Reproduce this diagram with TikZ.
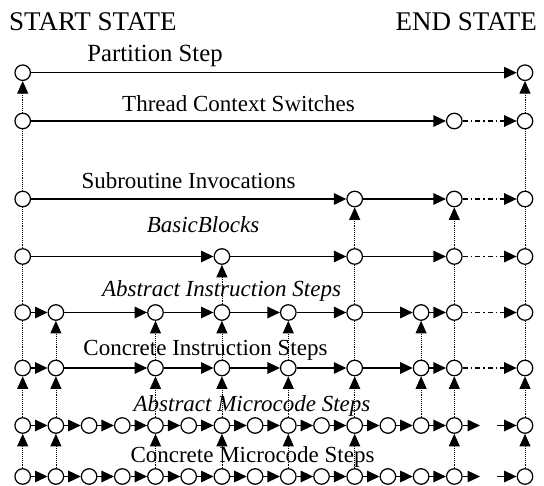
\documentclass[tikz,border=0pt]{standalone}
\usepackage{fontspec}
\setmainfont{Liberation Serif}
\usetikzlibrary{arrows.meta}
\begin{document}
\begin{tikzpicture}[x=1pt,y=-1pt,
  st/.style={circle,draw,line width=1.25pt,fill=white,minimum size=15.5pt,inner sep=0pt},
  harr/.style={line width=1.4pt,-{Triangle[length=12.5pt,width=11.5pt]}},
  dd/.style={harr,dash pattern=on 5pt off 3pt on 1.5pt off 3pt},
  varr/.style={line width=0.8pt,dash pattern=on 0.8pt off 1.1pt,-{Triangle[length=12.5pt,width=11pt]}},
  vln/.style={line width=0.8pt,dash pattern=on 0.8pt off 1.1pt},
  lbl/.style={font=\fontsize{23}{23}\selectfont,anchor=base,inner sep=0pt},
  ttl/.style={font=\fontsize{27}{27}\selectfont,inner sep=0pt}]
\useasboundingbox (0,0) rectangle (544,486);

% titles and labels
\node[ttl,anchor=base west] (tstart) at (9,31) {START STATE};
\node[ttl,anchor=base east] (tend) at (537,31) {END STATE};
\node[lbl,font=\fontsize{24.7}{24.7}\selectfont] (l1) at (155,62) {Partition Step};
\node[lbl] (l2) at (238.5,112) {Thread Context Switches};
\node[lbl] (l3) at (188.5,189) {Subroutine Invocations};
\node[lbl] (l4) at (203,233) {\itshape BasicBlocks};
\node[lbl] (l5) at (221.5,297) {\itshape Abstract Instruction Steps};
\node[lbl] (l6) at (205.5,356) {Concrete Instruction Steps};
\node[lbl] (l7) at (252,412) {\itshape Abstract Microcode Steps};
\node[lbl] (l8) at (252.5,462) {Concrete Microcode Steps};

% nodes
\foreach \r/\y/\cols in {1/72.7/{0}, 2/121/{0,13}, 3/199/{0,10,13}, 4/256.5/{0,6,10,13},
    5/312.5/{0,1,4,6,8,10,12,13}, 6/368/{0,1,4,6,8,10,12,13},
    7/425.5/{0,1,2,3,4,5,6,7,8,9,10,11,12,13}, 8/476.5/{0,1,2,3,4,5,6,7,8,9,10,11,12,13}} {
  \foreach \c in \cols { \node[st] (r\r c\c) at ({22.7+33.2*\c},\y) {}; }
  \node[st] (r\r cE) at (525,\y) {};
}
\coordinate (r7t) at (480,425.5);
\coordinate (r7s) at (497,425.5);
\coordinate (r8t) at (480,476.5);
\coordinate (r8s) at (497,476.5);

% horizontal connectors
\draw[harr] (r1c0) -- (r1cE);
\draw[harr] (r2c0) -- (r2c13);
\draw[dd] (r2c13) -- (r2cE);
\foreach \a/\b in {0/10,10/13} \draw[harr] (r3c\a) -- (r3c\b);
\draw[dd] (r3c13) -- (r3cE);
\foreach \a/\b in {0/6,6/10,10/13} \draw[harr] (r4c\a) -- (r4c\b);
\draw[dd] (r4c13) -- (r4cE);
\foreach \r in {5,6} {
  \foreach \a/\b in {0/1,1/4,4/6,6/8,8/10,10/12,12/13} \draw[harr] (r\r c\a) -- (r\r c\b);
  \draw[dd] (r\r c13) -- (r\r cE);
}
\foreach \r in {7,8} {
  \foreach \a/\b in {0/1,1/2,2/3,3/4,4/5,5/6,6/7,7/8,8/9,9/10,10/11,11/12,12/13} \draw[harr] (r\r c\a) -- (r\r c\b);
  \draw[harr] (r\r c13) -- (r\r t);
  \draw[harr] (r\r s) -- (r\r cE);
}

% vertical connectors
\foreach \c in {0,E} {
  \draw[varr] (r2c\c) -- (r1c\c);
  \foreach \a/\b in {3/2,4/3,5/4,6/5} \draw[vln] (r\a c\c) -- (r\b c\c);
  \draw[varr] (r7c\c) -- (r6c\c);
  \draw[varr] (r8c\c) -- (r7c\c);
}
\foreach \c in {10,13} {
  \draw[varr] (r4c\c) -- (r3c\c);
  \draw[vln] (r5c\c) -- (r4c\c);
  \draw[vln] (r6c\c) -- (r5c\c);
  \draw[varr] (r7c\c) -- (r6c\c);
  \draw[varr] (r8c\c) -- (r7c\c);
}
\draw[varr] (r6c12) -- (r5c12);
\draw[varr] (r7c12) -- (r6c12);
\draw[varr] (r5c6) -- (r4c6);
\foreach \c in {1,4,6,8} {
  \draw[varr] (r6c\c) -- (r5c\c);
  \draw[varr] (r7c\c) -- (r6c\c);
  \draw[varr] (r8c\c) -- (r7c\c);
}
\end{tikzpicture}
\end{document}
